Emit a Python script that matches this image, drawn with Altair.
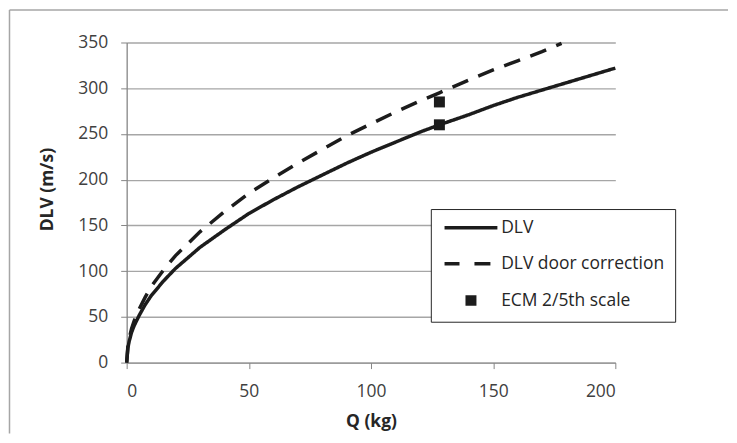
import altair as alt
import pandas as pd

# ---- data ----
series_names = ["DLV", "DLV door correction", "ECM 2/5th scale"]

q_dlv = [0, 0.5, 1, 2, 3, 5, 7.5, 10, 15, 20, 30, 40, 50, 60, 70, 80, 90, 100,
         110, 120, 128, 140, 150, 160, 170, 180, 190, 200]
v_dlv = [0, 16, 23, 33, 40, 51, 63, 73, 89, 103, 126, 145, 163, 178, 192, 205, 218, 230,
         241, 252, 260, 271, 281, 290, 298, 306, 314, 322]

q_door = [0, 0.5, 1, 2, 3, 5, 7.5, 10, 15, 20, 30, 40, 50, 60, 70, 80, 90, 100,
          110, 120, 128, 140, 150, 160, 170, 178]
v_door = [0, 18, 26, 37, 45, 58, 71, 83, 101, 117, 143, 165, 185, 202, 218, 233, 248, 261,
          274, 286, 295, 309, 320, 330, 340, 349]

q_ecm = [128, 128]
v_ecm = [260, 285]

x_ticks = [0, 50, 100, 150, 200]
y_ticks = [0, 50, 100, 150, 200, 250, 300, 350]

# ---- tables ----
lines_df = pd.concat([
    pd.DataFrame({"Q": q_dlv, "V": v_dlv, "series": series_names[0]}),
    pd.DataFrame({"Q": q_door, "V": v_door, "series": series_names[1]}),
], ignore_index=True)
ecm_df = pd.DataFrame({"Q": q_ecm, "V": v_ecm, "series": series_names[2]})

FONT = "Open Sans"
INK = "#1c1c1c"
GRID = "#a6a6a6"
AXIS = "#868686"

x_enc = alt.X(
    "Q:Q",
    scale=alt.Scale(domain=[0, 200], nice=False),
    axis=alt.Axis(values=x_ticks, title="Q (kg)", grid=False, domainColor=AXIS,
                  tickColor=AXIS, tickSize=6, labelPadding=14, labelFont=FONT,
                  labelFontSize=17.5, labelColor="#404040", titleFont=FONT,
                  titleFontSize=17.5, titleFontWeight="bold", titleColor="#262626",
                  titlePadding=13),
)
y_enc = alt.Y(
    "V:Q",
    scale=alt.Scale(domain=[0, 350], nice=False),
    axis=alt.Axis(values=y_ticks, title="DLV (m/s)", grid=True, gridColor=GRID,
                  gridWidth=1.3, domainColor=AXIS, domainWidth=1.3, tickColor=AXIS,
                  tickSize=6, labelPadding=13, labelFont=FONT, labelFontSize=17.5,
                  labelColor="#404040", titleFont=FONT, titleFontSize=17.5,
                  titleFontWeight="bold", titleColor="#262626", titleX=-70, titleY=147),
)

lines = alt.Chart(lines_df).mark_line(strokeWidth=3.5, color=INK).encode(
    x=x_enc,
    y=y_enc,
    strokeDash=alt.StrokeDash(
        "series:N",
        scale=alt.Scale(domain=series_names[:2], range=[[1, 0], [17, 11]]),
        legend=None,
    ),
)

squares = alt.Chart(ecm_df).mark_point(
    shape="square", filled=True, size=121, opacity=1, color=INK
).encode(x="Q:Q", y="V:Q")

# legend symbols drawn as stroked paths: solid line, dashed line, small square
sym_solid = "M-1,0H9.6"
sym_dash = "M-1,0H2M5,0H8.2"
sym_square = "M3.2,-0.7H5.4M3.2,0H5.4M3.2,0.7H5.4"

legend_layer = alt.Chart(ecm_df).mark_point(
    filled=False, opacity=0, size=100, color=INK, strokeWidth=3.5
).encode(
    x="Q:Q",
    y="V:Q",
    shape=alt.Shape(
        "series:N",
        scale=alt.Scale(domain=series_names, range=[sym_solid, sym_dash, sym_square]),
        legend=alt.Legend(
            title=None, orient="none", legendX=305, legendY=167,
            symbolSize=100, symbolStrokeWidth=3.5, symbolStrokeColor=INK,
            symbolOpacity=1,
            labelFont=FONT, labelFontSize=17.5, labelColor="#262626", labelLimit=400,
            labelOffset=43, rowPadding=17, padding=10,
            strokeColor="#262626", fillColor="white",
        ),
    ),
)

frame_df = pd.DataFrame({"k": [0]})
frame_top = alt.Chart(frame_df).mark_rule(color=GRID, strokeWidth=1.5).encode(
    x=alt.value(-117.5), x2=alt.value(603), y=alt.value(-32.5)
)
frame_left = alt.Chart(frame_df).mark_rule(color=GRID, strokeWidth=1.5).encode(
    x=alt.value(-117.5), y=alt.value(-32.5), y2=alt.value(392)
)

chart = alt.layer(frame_top, frame_left, lines, squares, legend_layer).properties(
    width=490, height=321, padding=0, background="white"
).configure_view(stroke=None)

chart.save("out.html", embed_options={"renderer": "svg", "actions": False})
